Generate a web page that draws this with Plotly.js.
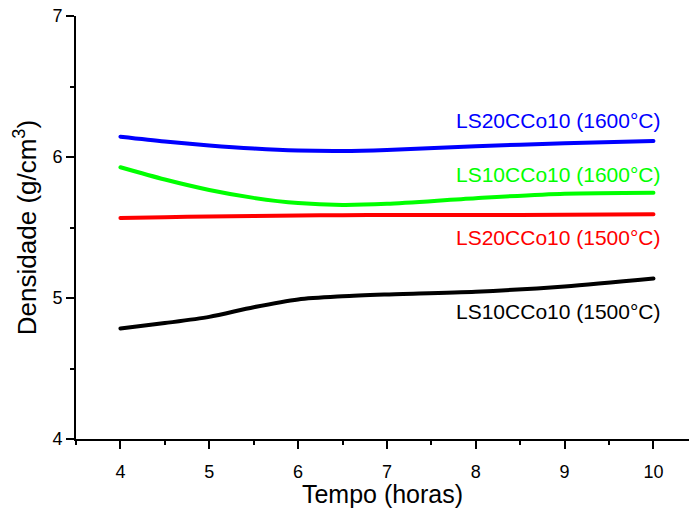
<!DOCTYPE html>
<html>
<head>
<meta charset="utf-8">
<script src="https://cdn.plot.ly/plotly-3.0.1.min.js"></script>
<style>html,body{margin:0;padding:0;background:#fff;}#chart{width:689px;height:508px;}</style>
</head>
<body>
<div id="chart"></div>
<script>
const tempo = [4, 4.5, 5, 5.5, 6, 6.5, 7, 8, 9, 10];
const ls20_1600 = [6.144, 6.110, 6.082, 6.060, 6.046, 6.043, 6.050, 6.076, 6.098, 6.114];
const ls10_1600 = [5.927, 5.840, 5.766, 5.710, 5.673, 5.660, 5.668, 5.708, 5.740, 5.747];
const ls20_1500 = [5.567, 5.573, 5.578, 5.582, 5.585, 5.587, 5.589, 5.589, 5.590, 5.594];
const ls10_1500 = [4.783, 4.822, 4.866, 4.935, 4.990, 5.012, 5.025, 5.045, 5.082, 5.138];

const seriesNames = ["LS20CCo10 (1600°C)", "LS10CCo10 (1600°C)", "LS20CCo10 (1500°C)", "LS10CCo10 (1500°C)"];
const seriesColors = ["#0000ff", "#00ff00", "#ff0000", "#000000"];
const seriesData = [ls20_1600, ls10_1600, ls20_1500, ls10_1500];
const labelY = [6.26, 5.877, 5.427, 4.901];

const font = "Arial, 'Liberation Sans', sans-serif";

const traces = seriesData.map((ys, i) => ({
  x: tempo, y: ys, type: "scatter", mode: "lines",
  name: seriesNames[i],
  line: {color: seriesColors[i], width: 4, shape: "spline", smoothing: 0.8},
  hoverinfo: "skip"
}));

const annotations = seriesNames.map((t, i) => ({
  x: 10.11, y: labelY[i], xref: "x", yref: "y",
  text: t, showarrow: false, xanchor: "right", yanchor: "middle",
  font: {family: font, size: 21, color: seriesColors[i]}
}));

const layout = {
  width: 689, height: 508,
  margin: {l: 76, r: 0, t: 16, b: 69},
  paper_bgcolor: "#fff", plot_bgcolor: "#fff",
  showlegend: false,
  font: {family: font, color: "#000"},
  xaxis: {
    range: [3.5, 10.4], tickvals: [4,5,6,7,8,9,10], ticktext: ["4","5","6","7","8","9","10"],
    ticks: "outside", ticklen: 8, tickwidth: 2, tickcolor: "#000",
    minor: {tickvals: [3.5,4.5,5.5,6.5,7.5,8.5,9.5], ticks: "outside", ticklen: 4, tickwidth: 2, tickcolor: "#000", showgrid: false},
    showline: true, linewidth: 2, linecolor: "#000", showgrid: false, zeroline: false,
    tickfont: {family: font, size: 18, color: "#000"},
    ticklabelstandoff: 7,
    title: {text: "Tempo (horas)", font: {family: font, size: 25, color: "#000"}, standoff: 6}
  },
  yaxis: {
    range: [4, 7], tickvals: [4,5,6,7], ticktext: ["4","5","6","7"],
    ticks: "outside", ticklen: 8, tickwidth: 2, tickcolor: "#000",
    minor: {tickvals: [4.5,5.5,6.5], ticks: "outside", ticklen: 4, tickwidth: 2, tickcolor: "#000", showgrid: false},
    showline: true, linewidth: 2, linecolor: "#000", showgrid: false, zeroline: false,
    tickfont: {family: font, size: 18, color: "#000"},
    ticklabelstandoff: 0,
    title: {text: "Densidade (g/cm<sup>3</sup>)", font: {family: font, size: 26, color: "#000"}, standoff: 8}
  },
  annotations: annotations
};

Plotly.newPlot("chart", traces, layout, {displayModeBar: false, staticPlot: true}).then(() => {
  document.querySelectorAll("#chart .scatterlayer path.js-line").forEach(p => {
    p.style.strokeLinecap = "round";
  });
});
</script>
</body>
</html>
